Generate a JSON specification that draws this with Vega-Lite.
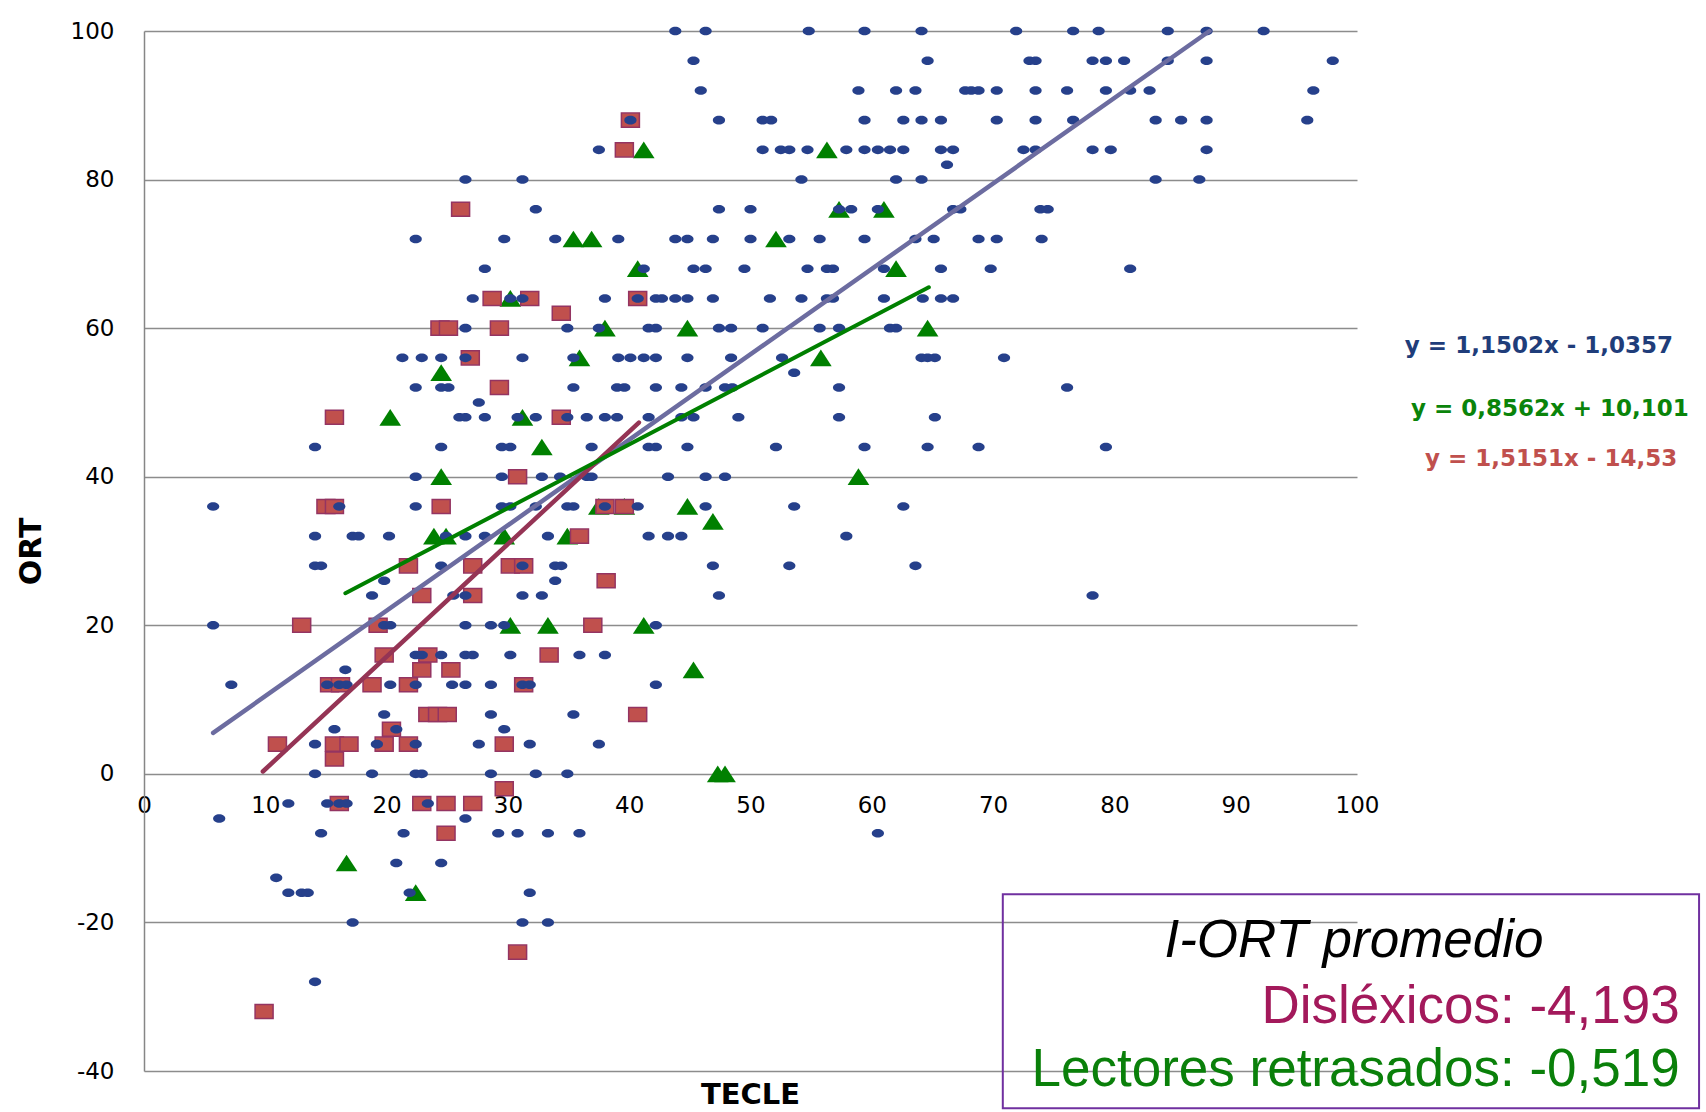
{
  "$schema": "https://vega.github.io/schema/vega-lite/v6.json",
  "width": 1213,
  "height": 1040,
  "autosize": {"type": "none"},
  "padding": {"left": 144, "top": 31, "right": 349, "bottom": 41},
  "background": "white",
  "config": {
    "view": {"stroke": null},
    "axis": {"labelFont": "DejaVu Sans", "titleFont": "DejaVu Sans", "labelColor": "black", "titleColor": "black"}
  },
  "datasets": {
    "todos": [
      {"x":22.4,"y":72},{"x":21.3,"y":56},{"x":22.9,"y":56},{"x":24.5,"y":56},
      {"x":43.8,"y":100},{"x":46.3,"y":100},{"x":45.3,"y":96},{"x":45.9,"y":92},{"x":40.1,"y":88},{"x":47.4,"y":88},{"x":37.5,"y":84},
      {"x":26.5,"y":80},{"x":31.2,"y":80},{"x":32.3,"y":76},{"x":47.4,"y":76},{"x":50.0,"y":76},
      {"x":29.7,"y":72},{"x":33.9,"y":72},{"x":39.1,"y":72},{"x":43.8,"y":72},{"x":44.8,"y":72},{"x":46.9,"y":72},{"x":50.0,"y":72},
      {"x":28.1,"y":68},{"x":41.2,"y":68},{"x":45.3,"y":68},{"x":46.3,"y":68},{"x":49.5,"y":68},
      {"x":27.1,"y":64},{"x":30.2,"y":64},{"x":31.2,"y":64},{"x":38.0,"y":64},{"x":40.7,"y":64},{"x":42.2,"y":64},{"x":42.7,"y":64},{"x":43.8,"y":64},{"x":44.8,"y":64},{"x":46.9,"y":64},
      {"x":26.5,"y":60},{"x":34.9,"y":60},{"x":37.5,"y":60},{"x":41.6,"y":60},{"x":42.2,"y":60},{"x":47.4,"y":60},{"x":48.4,"y":60},
      {"x":26.5,"y":56},{"x":31.2,"y":56},{"x":35.4,"y":56},{"x":39.1,"y":56},{"x":40.1,"y":56},{"x":41.2,"y":56},{"x":42.2,"y":56},{"x":44.8,"y":56},{"x":48.4,"y":56},
      {"x":54.8,"y":100},{"x":59.4,"y":100},{"x":64.1,"y":100},{"x":71.9,"y":100},
      {"x":64.6,"y":96},{"x":73.0,"y":96},{"x":73.5,"y":96},
      {"x":58.9,"y":92},{"x":62.0,"y":92},{"x":63.6,"y":92},{"x":67.7,"y":92},{"x":68.2,"y":92},{"x":68.8,"y":92},{"x":70.3,"y":92},{"x":73.5,"y":92},
      {"x":51.0,"y":88},{"x":51.7,"y":88},{"x":59.4,"y":88},{"x":62.6,"y":88},{"x":64.1,"y":88},{"x":65.7,"y":88},{"x":70.3,"y":88},{"x":73.5,"y":88},
      {"x":51.0,"y":84},{"x":52.5,"y":84},{"x":53.2,"y":84},{"x":54.7,"y":84},{"x":57.9,"y":84},{"x":59.4,"y":84},{"x":60.5,"y":84},{"x":61.5,"y":84},{"x":62.6,"y":84},{"x":65.7,"y":84},{"x":66.7,"y":84},{"x":72.5,"y":84},{"x":73.5,"y":84},
      {"x":66.2,"y":82},{"x":54.2,"y":80},{"x":62.0,"y":80},{"x":64.1,"y":80},
      {"x":57.3,"y":76},{"x":58.3,"y":76},{"x":60.5,"y":76},{"x":66.7,"y":76},{"x":67.3,"y":76},{"x":73.9,"y":76},{"x":74.5,"y":76},
      {"x":53.2,"y":72},{"x":55.7,"y":72},{"x":59.4,"y":72},{"x":63.6,"y":72},{"x":65.1,"y":72},{"x":68.8,"y":72},{"x":70.3,"y":72},{"x":74.0,"y":72},
      {"x":54.7,"y":68},{"x":56.3,"y":68},{"x":56.8,"y":68},{"x":61.0,"y":68},{"x":65.7,"y":68},{"x":69.8,"y":68},
      {"x":51.6,"y":64},{"x":54.2,"y":64},{"x":56.3,"y":64},{"x":56.8,"y":64},{"x":61.0,"y":64},{"x":64.2,"y":64},{"x":65.7,"y":64},{"x":66.7,"y":64},
      {"x":51.0,"y":60},{"x":55.7,"y":60},{"x":57.3,"y":60},{"x":61.5,"y":60},{"x":62.0,"y":60},
      {"x":52.6,"y":56},{"x":64.1,"y":56},{"x":64.6,"y":56},{"x":65.2,"y":56},{"x":70.9,"y":56},{"x":53.6,"y":54},
      {"x":76.6,"y":100},{"x":78.7,"y":100},{"x":84.4,"y":100},{"x":87.6,"y":100},{"x":92.3,"y":100},
      {"x":78.2,"y":96},{"x":79.3,"y":96},{"x":80.8,"y":96},{"x":84.4,"y":96},{"x":87.6,"y":96},{"x":98.0,"y":96},
      {"x":76.1,"y":92},{"x":79.3,"y":92},{"x":81.3,"y":92},{"x":82.9,"y":92},{"x":96.4,"y":92},
      {"x":76.6,"y":88},{"x":83.4,"y":88},{"x":85.5,"y":88},{"x":87.6,"y":88},{"x":95.9,"y":88},
      {"x":78.2,"y":84},{"x":79.7,"y":84},{"x":87.6,"y":84},{"x":83.4,"y":80},{"x":87.0,"y":80},{"x":81.3,"y":68},
      {"x":22.4,"y":52},{"x":24.5,"y":52},{"x":25.1,"y":52},{"x":14.1,"y":44},{"x":24.5,"y":44},{"x":22.4,"y":40},
      {"x":5.7,"y":36},{"x":16.1,"y":36},{"x":22.4,"y":36},
      {"x":14.1,"y":32},{"x":17.2,"y":32},{"x":17.7,"y":32},{"x":20.2,"y":32},
      {"x":14.1,"y":28},{"x":14.6,"y":28},{"x":24.5,"y":28},{"x":19.8,"y":26},{"x":18.8,"y":24},
      {"x":5.7,"y":20},{"x":19.8,"y":20},{"x":20.3,"y":20},
      {"x":22.4,"y":16},{"x":22.9,"y":16},{"x":24.5,"y":16},{"x":16.6,"y":14},
      {"x":7.2,"y":12},{"x":15.1,"y":12},{"x":16.1,"y":12},{"x":16.7,"y":12},{"x":20.3,"y":12},{"x":22.4,"y":12},{"x":19.8,"y":8},
      {"x":27.6,"y":50},
      {"x":35.4,"y":52},{"x":39.0,"y":52},{"x":39.6,"y":52},{"x":42.2,"y":52},{"x":44.3,"y":52},{"x":46.3,"y":52},{"x":47.9,"y":52},{"x":48.5,"y":52},
      {"x":26.0,"y":48},{"x":26.5,"y":48},{"x":28.1,"y":48},{"x":30.8,"y":48},{"x":32.3,"y":48},{"x":34.9,"y":48},{"x":36.5,"y":48},{"x":38.0,"y":48},{"x":39.0,"y":48},{"x":41.6,"y":48},{"x":44.3,"y":48},{"x":45.3,"y":48},{"x":49.0,"y":48},
      {"x":29.5,"y":44},{"x":30.2,"y":44},{"x":36.9,"y":44},{"x":41.6,"y":44},{"x":42.2,"y":44},{"x":44.8,"y":44},
      {"x":29.5,"y":40},{"x":32.8,"y":40},{"x":34.3,"y":40},{"x":36.5,"y":40},{"x":36.9,"y":40},{"x":43.2,"y":40},{"x":46.3,"y":40},{"x":47.9,"y":40},
      {"x":29.5,"y":36},{"x":30.2,"y":36},{"x":32.3,"y":36},{"x":34.9,"y":36},{"x":35.4,"y":36},{"x":38.0,"y":36},{"x":40.7,"y":36},{"x":46.3,"y":36},
      {"x":24.9,"y":32},{"x":26.5,"y":32},{"x":28.1,"y":32},{"x":33.3,"y":32},{"x":41.6,"y":32},{"x":43.2,"y":32},{"x":44.3,"y":32},
      {"x":31.2,"y":28},{"x":33.9,"y":28},{"x":34.4,"y":28},{"x":46.9,"y":28},{"x":33.9,"y":26},
      {"x":25.5,"y":24},{"x":26.5,"y":24},{"x":31.2,"y":24},{"x":32.8,"y":24},{"x":47.4,"y":24},
      {"x":26.5,"y":20},{"x":28.6,"y":20},{"x":29.7,"y":20},{"x":42.2,"y":20},
      {"x":26.5,"y":16},{"x":27.1,"y":16},{"x":30.2,"y":16},{"x":35.9,"y":16},{"x":38.0,"y":16},
      {"x":25.4,"y":12},{"x":26.5,"y":12},{"x":28.6,"y":12},{"x":31.2,"y":12},{"x":31.8,"y":12},{"x":42.2,"y":12},
      {"x":28.6,"y":8},{"x":35.4,"y":8},{"x":29.7,"y":6},
      {"x":57.3,"y":52},{"x":57.3,"y":48},{"x":65.2,"y":48},
      {"x":52.1,"y":44},{"x":59.4,"y":44},{"x":64.6,"y":44},{"x":68.8,"y":44},
      {"x":53.6,"y":36},{"x":62.6,"y":36},{"x":57.9,"y":32},{"x":53.2,"y":28},{"x":63.6,"y":28},
      {"x":76.1,"y":52},{"x":79.3,"y":44},{"x":78.2,"y":24},
      {"x":15.7,"y":6},{"x":20.8,"y":6},
      {"x":14.1,"y":4},{"x":19.2,"y":4},{"x":22.4,"y":4},
      {"x":14.1,"y":0},{"x":18.8,"y":0},{"x":22.4,"y":0},{"x":22.9,"y":0},
      {"x":11.9,"y":-4},{"x":15.1,"y":-4},{"x":16.1,"y":-4},{"x":16.7,"y":-4},{"x":23.4,"y":-4},
      {"x":6.2,"y":-6},{"x":14.6,"y":-8},{"x":21.4,"y":-8},{"x":20.8,"y":-12},{"x":24.5,"y":-12},{"x":10.9,"y":-14},
      {"x":11.9,"y":-16},{"x":13.0,"y":-16},{"x":13.5,"y":-16},{"x":21.9,"y":-16},{"x":17.2,"y":-20},{"x":14.1,"y":-28},
      {"x":27.6,"y":4},{"x":31.8,"y":4},{"x":37.5,"y":4},
      {"x":28.6,"y":0},{"x":32.3,"y":0},{"x":34.9,"y":0},{"x":26.5,"y":-6},
      {"x":29.2,"y":-8},{"x":30.8,"y":-8},{"x":33.3,"y":-8},{"x":35.9,"y":-8},
      {"x":31.8,"y":-16},{"x":31.2,"y":-20},{"x":33.3,"y":-20},{"x":60.5,"y":-8}
    ],
    "dislexicos": [
      {"x":24.4,"y":60},{"x":25.1,"y":60},{"x":40.1,"y":88},{"x":39.6,"y":84},{"x":26.1,"y":76},{"x":28.7,"y":64},{"x":31.8,"y":64},{"x":40.7,"y":64},{"x":34.4,"y":62},{"x":29.3,"y":60},{"x":26.9,"y":56},
      {"x":15.7,"y":48},{"x":15.0,"y":36},{"x":15.7,"y":36},{"x":24.5,"y":36},{"x":21.8,"y":28},{"x":22.9,"y":24},{"x":13.0,"y":20},{"x":19.3,"y":20},{"x":19.8,"y":16},{"x":23.4,"y":16},{"x":22.9,"y":14},{"x":25.3,"y":14},
      {"x":15.3,"y":12},{"x":16.2,"y":12},{"x":18.8,"y":12},{"x":21.8,"y":12},
      {"x":23.4,"y":8},{"x":24.2,"y":8},{"x":25.0,"y":8},{"x":20.4,"y":6},
      {"x":11.0,"y":4},{"x":15.7,"y":4},{"x":16.9,"y":4},{"x":19.8,"y":4},{"x":21.8,"y":4},{"x":15.7,"y":2},
      {"x":16.1,"y":-4},{"x":22.9,"y":-4},{"x":24.9,"y":-4},{"x":27.1,"y":-4},{"x":24.9,"y":-8},{"x":9.9,"y":-32},
      {"x":29.3,"y":52},{"x":34.4,"y":48},{"x":30.8,"y":40},{"x":38.0,"y":36},{"x":39.6,"y":36},{"x":35.9,"y":32},{"x":27.1,"y":28},{"x":30.2,"y":28},{"x":31.3,"y":28},{"x":38.1,"y":26},{"x":27.1,"y":24},{"x":37.0,"y":20},{"x":33.4,"y":16},{"x":31.3,"y":12},{"x":40.7,"y":8},
      {"x":29.7,"y":4},{"x":29.7,"y":-2},{"x":30.8,"y":-24}
    ],
    "retrasados": [
      {"x":41.2,"y":84},{"x":35.4,"y":72},{"x":36.9,"y":72},{"x":40.7,"y":68},{"x":30.2,"y":64},{"x":38.0,"y":60},{"x":44.8,"y":60},{"x":35.9,"y":56},{"x":24.5,"y":54},
      {"x":56.3,"y":84},{"x":57.3,"y":76},{"x":61.0,"y":76},{"x":52.1,"y":72},{"x":62.0,"y":68},{"x":64.6,"y":60},{"x":55.8,"y":56},
      {"x":20.3,"y":48},{"x":24.5,"y":40},{"x":23.9,"y":32},
      {"x":31.2,"y":48},{"x":32.8,"y":44},{"x":37.5,"y":36},{"x":39.6,"y":36},{"x":44.8,"y":36},{"x":46.9,"y":34},{"x":24.9,"y":32},{"x":29.7,"y":32},{"x":34.9,"y":32},{"x":30.2,"y":20},{"x":33.3,"y":20},{"x":41.2,"y":20},{"x":45.3,"y":14},
      {"x":58.9,"y":40},{"x":16.7,"y":-12},{"x":22.4,"y":-16},{"x":47.3,"y":0},{"x":47.9,"y":0}
    ]
  },
  "encoding": {
    "x": {
      "field": "x", "type": "quantitative",
      "scale": {"domain": [0, 100], "nice": false, "zero": false},
      "axis": {
        "title": "TECLE", "values": [0,10,20,30,40,50,60,70,80,90,100],
        "offset": -298, "grid": false, "domain": false, "ticks": false,
        "labelFontSize": 23, "labelPadding": 21, "labelFlush": false, "labelOverlap": false,
        "titleFontSize": 29, "titleFontWeight": "bold", "titleX": 606, "titleY": 330, "titleBaseline": "alphabetic"
      }
    },
    "y": {
      "field": "y", "type": "quantitative",
      "scale": {"domain": [-40, 100], "nice": false, "zero": false},
      "axis": {
        "title": "ORT", "values": [-40,-20,0,20,40,60,80,100],
        "labelExpr": "datum.value < 0 ? '-' + abs(datum.value) : '' + datum.value",
        "grid": true, "gridColor": "#8C8C8C", "gridWidth": 1.3,
        "domainColor": "#868686", "domainWidth": 1.5, "ticks": false,
        "labelFontSize": 23, "labelPadding": 30, "labelOverlap": false,
        "titleFontSize": 30, "titleFontWeight": "bold", "titleX": -113, "titleY": 520, "titleBaseline": "middle", "titleAlign": "center"
      }
    }
  },
  "layer": [
    {
      "data": {"values": [{"x": 70.8, "x2": 128.2, "y": -16.2, "y2": -45.0}]},
      "mark": {"type": "rect", "fill": null, "fillOpacity": 0, "stroke": "#7030A0", "strokeWidth": 2},
      "encoding": {"x2": {"field": "x2"}, "y2": {"field": "y2"}}
    },
    {
      "data": {"name": "retrasados"},
      "mark": {"type": "point", "shape": "M0,-0.77L1,0.77L-1,0.77Z", "filled": true, "color": "#008000", "opacity": 1, "size": 470}
    },
    {
      "data": {"name": "dislexicos"},
      "mark": {"type": "point", "shape": "M-1,-0.78H1V0.78H-1Z", "filled": true, "fill": "#C0504D", "stroke": "#943462", "strokeWidth": 1.5, "opacity": 1, "size": 324}
    },
    {
      "data": {"name": "todos"},
      "mark": {"type": "point", "shape": "M-1,0A1,0.7 0 1,1 1,0A1,0.7 0 1,1 -1,0Z", "filled": true, "color": "#26408B", "opacity": 1, "size": 150}
    },
    {
      "data": {"values": [{"x": 5.7, "y": 5.52}, {"x": 87.84, "y": 100}]},
      "mark": {"type": "line", "color": "#6C6CA0", "strokeWidth": 4.5, "strokeCap": "round"},
      "encoding": {}
    },
    {
      "data": {"values": [{"x": 9.8, "y": 0.32}, {"x": 40.8, "y": 47.29}]},
      "mark": {"type": "line", "color": "#953455", "strokeWidth": 4.5, "strokeCap": "round"},
      "encoding": {}
    },
    {
      "data": {"values": [{"x": 16.6, "y": 24.31}, {"x": 64.7, "y": 65.5}]},
      "mark": {"type": "line", "color": "#008000", "strokeWidth": 4, "strokeCap": "round"},
      "encoding": {}
    },
    {
      "data": {"values": [{"x": 115.0, "y": 57.6, "texto": "y = 1,1502x - 1,0357"}]},
      "mark": {"type": "text", "font": "DejaVu Sans", "fontWeight": "bold", "fontSize": 23, "color": "#1F3D7A", "align": "center", "baseline": "middle"},
      "encoding": {"text": {"field": "texto"}}
    },
    {
      "data": {"values": [{"x": 115.9, "y": 49.1, "texto": "y = 0,8562x + 10,101"}]},
      "mark": {"type": "text", "font": "DejaVu Sans", "fontWeight": "bold", "fontSize": 23, "color": "#0A840A", "align": "center", "baseline": "middle"},
      "encoding": {"text": {"field": "texto"}}
    },
    {
      "data": {"values": [{"x": 116.0, "y": 42.35, "texto": "y = 1,5151x - 14,53"}]},
      "mark": {"type": "text", "font": "DejaVu Sans", "fontWeight": "bold", "fontSize": 23, "color": "#C0504D", "align": "center", "baseline": "middle"},
      "encoding": {"text": {"field": "texto"}}
    },
    {
      "data": {"values": [{"x": 99.75, "y": -24.67, "texto": "I-ORT promedio"}]},
      "mark": {"type": "text", "font": "Liberation Sans", "fontStyle": "italic", "fontSize": 53, "color": "black", "align": "center", "baseline": "alphabetic"},
      "encoding": {"text": {"field": "texto"}}
    },
    {
      "data": {"values": [{"x": 126.6, "y": -33.5, "texto": "Disléxicos: -4,193"}]},
      "mark": {"type": "text", "font": "Liberation Sans", "fontSize": 53, "color": "#A3195B", "align": "right", "baseline": "alphabetic"},
      "encoding": {"text": {"field": "texto"}}
    },
    {
      "data": {"values": [{"x": 126.6, "y": -42.0, "texto": "Lectores retrasados: -0,519"}]},
      "mark": {"type": "text", "font": "Liberation Sans", "fontSize": 53, "color": "#0A800A", "align": "right", "baseline": "alphabetic"},
      "encoding": {"text": {"field": "texto"}}
    }
  ]
}
